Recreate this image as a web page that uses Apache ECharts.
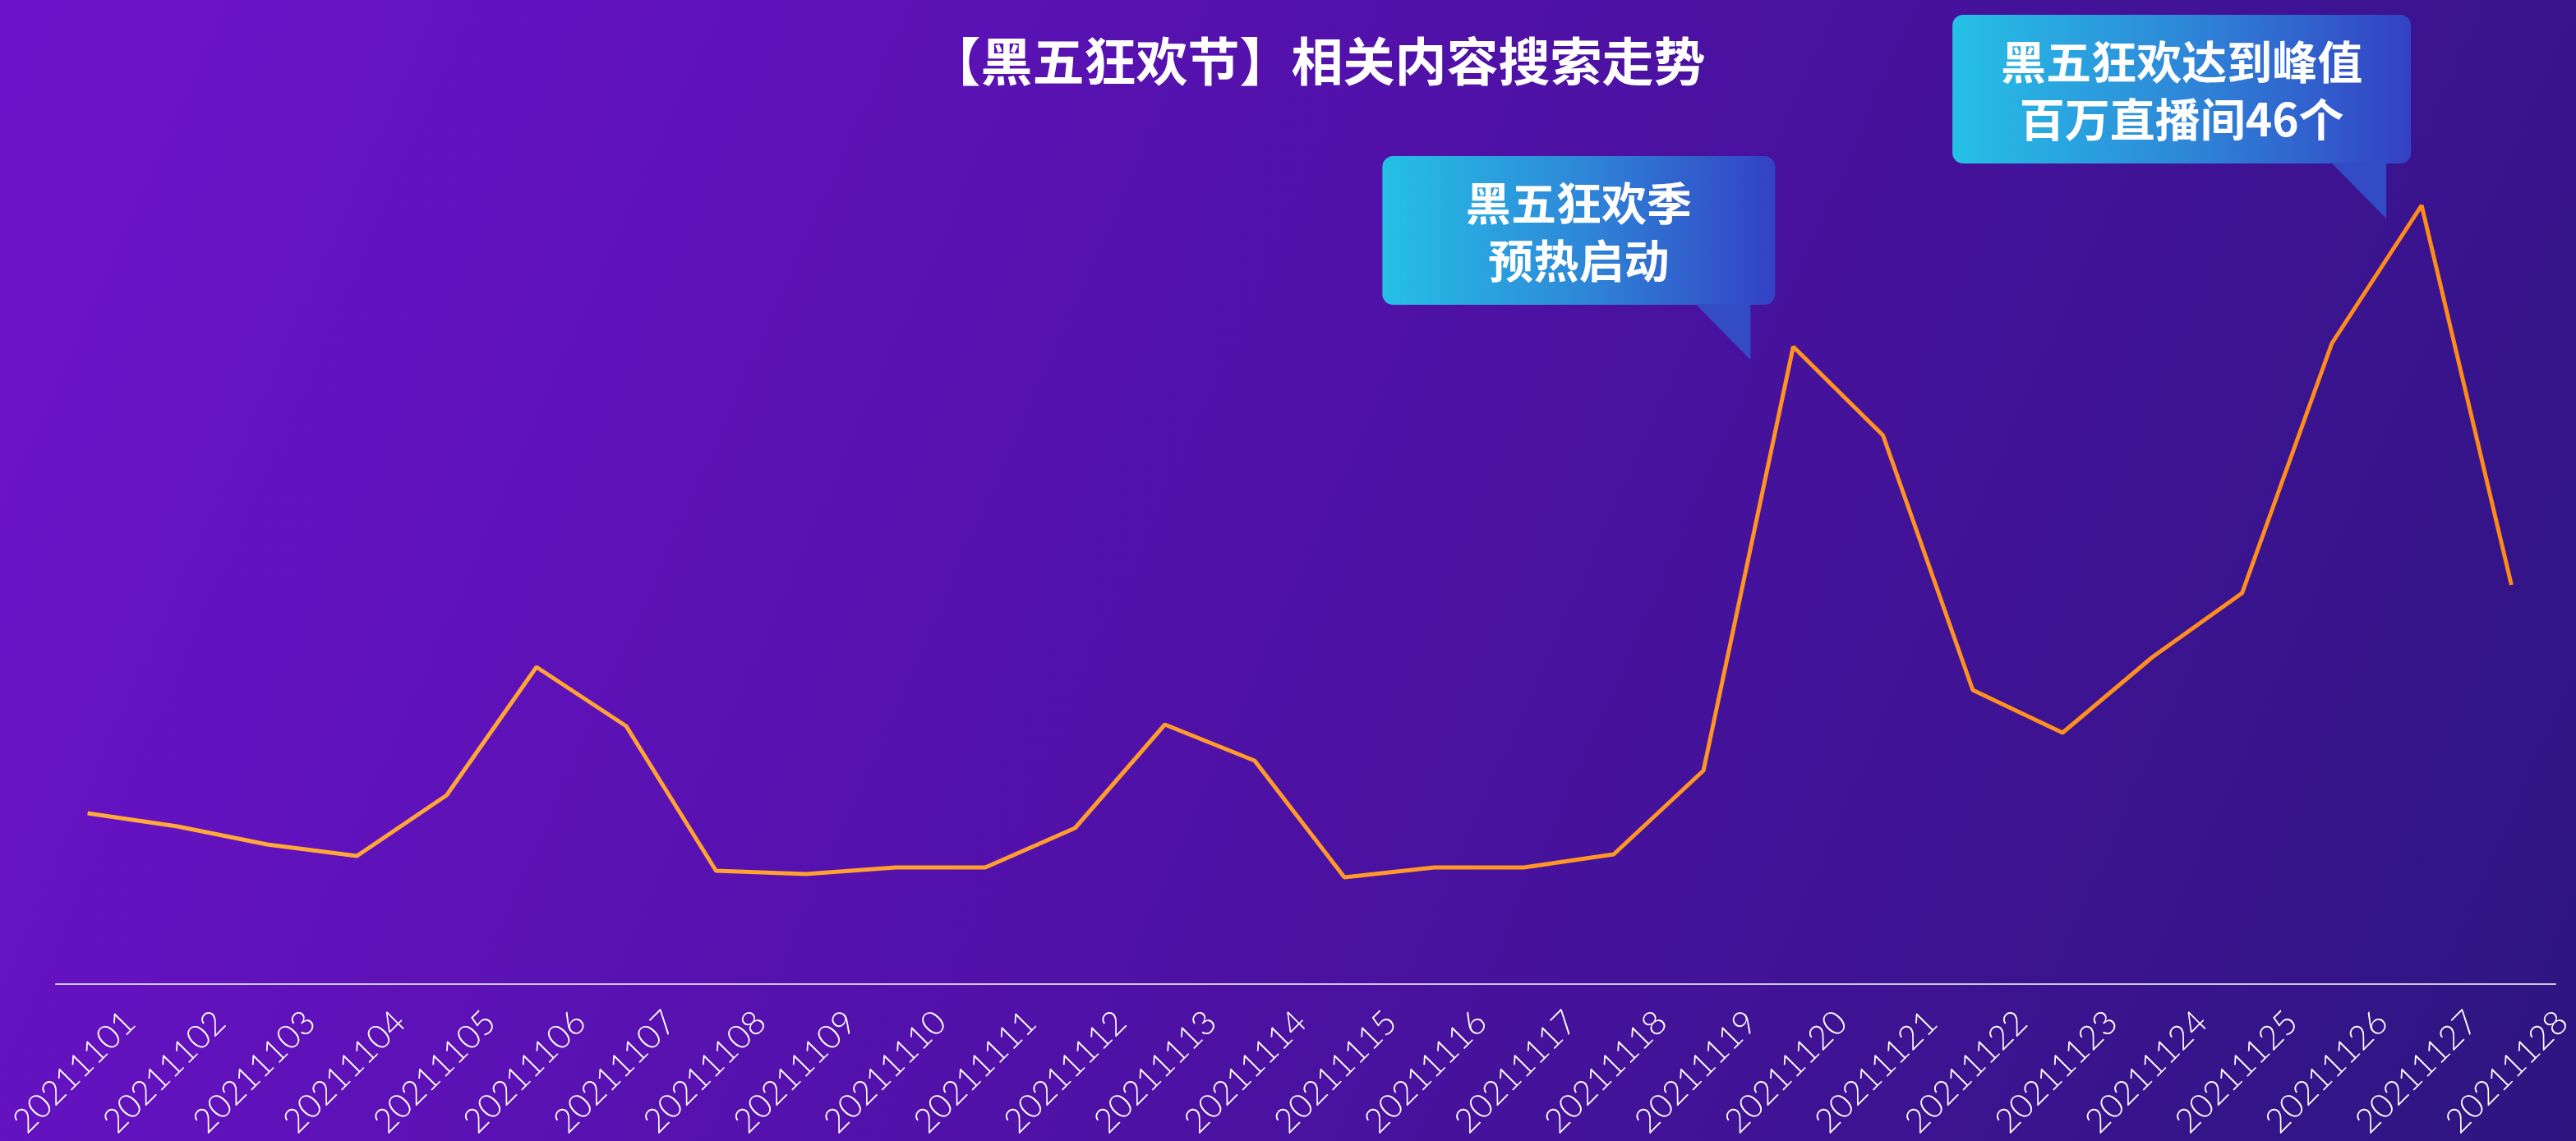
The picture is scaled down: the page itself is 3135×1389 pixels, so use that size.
<!DOCTYPE html>
<html>
<head>
<meta charset="utf-8">
<title>黑五狂欢节相关内容搜索走势</title>
<script src="https://cdn.jsdelivr.net/npm/echarts@6/dist/echarts.min.js"></script>
<style>
  html, body { margin: 0; padding: 0; background: #4f11a6; }
  #chartcon { width: 3135px; height: 1389px; }
</style>
</head>
<body>
<div id="chartcon"></div>
<script>
  // search trend, one point per day
  var dates = ['20211101','20211102','20211103','20211104','20211105','20211106','20211107',
    '20211108','20211109','20211110','20211111','20211112','20211113','20211114',
    '20211115','20211116','20211117','20211118','20211119','20211120','20211121',
    '20211122','20211123','20211124','20211125','20211126','20211127','20211128'];
  var searchValues = [20.8, 19.2, 17.0, 15.6, 23.0, 38.6, 31.4, 13.8, 13.4, 14.2, 14.2, 19.0, 31.6, 27.2,
    13.0, 14.2, 14.2, 15.8, 26.0, 77.6, 66.8, 35.8, 30.6, 39.8, 47.6, 78.0, 94.8, 48.6];
  var noteDays = ['20211120', '20211127'];
  var noteTexts = [['黑五狂欢季', '预热启动'], ['黑五狂欢达到峰值', '百万直播间46个']];

  var myChart = echarts.init(document.getElementById('chartcon'));
  var cjk = '"Noto Sans CJK SC", "Noto Sans", sans-serif';

  myChart.setOption({
    backgroundColor: new echarts.graphic.LinearGradient(0, 0, 1, 1, [
      {offset: 0, color: '#6e13cc'},
      {offset: 0.5, color: '#4f11a6'},
      {offset: 1, color: '#2d1580'}
    ]),
    title: {
      text: '【黑五狂欢节】相关内容搜索走势',
      left: 1598,
      textAlign: 'center',
      top: 38,
      textStyle: {
        color: '#fff',
        fontSize: 63,
        fontWeight: 'bold',
        fontFamily: cjk
      }
    },
    grid: [
      {left: 52, right: 24, top: 198, bottom: 191},   // line
      {left: 158, right: 7, top: 198, bottom: 191},   // tick labels
      {left: 68, right: 25, top: 198, bottom: 191}    // base line
    ],
    xAxis: [
      {
        gridIndex: 0,
        type: 'category',
        data: dates,
        boundaryGap: true,
        axisLine: {show: false},
        axisTick: {show: false},
        axisLabel: {show: false}
      },
      {
        gridIndex: 1,
        type: 'category',
        data: dates,
        boundaryGap: false,
        axisLine: {show: false},
        axisTick: {show: false},
        axisLabel: {
          interval: 0,
          rotate: 45,
          margin: 62,
          color: '#fff',
          fontSize: 41,
          fontWeight: 300,
          fontFamily: 'Lato, "Open Sans", sans-serif'
        }
      },
      {
        gridIndex: 2,
        type: 'category',
        data: dates,
        axisLine: {show: true, lineStyle: {color: '#cfc6e6', width: 2}},
        axisTick: {show: false},
        axisLabel: {show: false}
      }
    ],
    yAxis: [
      {gridIndex: 0, type: 'value', min: 0, max: 100, show: false},
      {gridIndex: 1, type: 'value', min: 0, max: 100, show: false},
      {gridIndex: 2, type: 'value', min: 0, max: 100, show: false}
    ],
    series: [
      {
        type: 'line',
        xAxisIndex: 0,
        yAxisIndex: 0,
        data: searchValues,
        symbol: 'none',
        silent: true,
        lineStyle: {
          width: 5,
          color: new echarts.graphic.LinearGradient(0, 0, 1, 0, [
            {offset: 0, color: '#ffab3a'},
            {offset: 1, color: '#ff8a18'}
          ])
        }
      }
    ]
  });

  // speech-bubble notes, pinned next to their day on the line
  var noteBoxes = [
    {width: 478, dx: -52},
    {width: 558, dx: -43}
  ];
  function callout(i) {
    var idx = dates.indexOf(noteDays[i]);
    var pt = myChart.convertToPixel({seriesIndex: 0}, [idx, searchValues[idx]]);
    var tipX = pt[0] + noteBoxes[i].dx;
    var tipY = pt[1] + 16;
    var tail = 67, boxH = 181, boxW = noteBoxes[i].width;
    var bottom = tipY - tail;
    var right = tipX + 30;
    return {
      type: 'group',
      children: [
        {
          type: 'rect',
          shape: {x: right - boxW, y: bottom - boxH, width: boxW, height: boxH, r: 13},
          style: {
            fill: new echarts.graphic.LinearGradient(0, 0, 1, 0, [
              {offset: 0, color: '#25c0e6'},
              {offset: 0.5, color: '#2e88d8'},
              {offset: 1, color: '#3341c4'}
            ])
          }
        },
        {
          type: 'polygon',
          shape: {points: [[tipX - tail, bottom - 1], [tipX, bottom - 1], [tipX, tipY]]},
          style: {fill: '#334cc6'}
        },
        {
          type: 'text',
          x: right - boxW / 2,
          y: bottom - boxH / 2 + 2,
          style: {
            text: noteTexts[i].join('\n'),
            fill: '#fff',
            fontSize: 55,
            fontWeight: 'bold',
            fontFamily: cjk,
            lineHeight: 70,
            align: 'center',
            verticalAlign: 'middle'
          }
        }
      ]
    };
  }
  myChart.setOption({
    graphic: noteDays.map(function (d, i) { return callout(i); })
  });
</script>
</body>
</html>
